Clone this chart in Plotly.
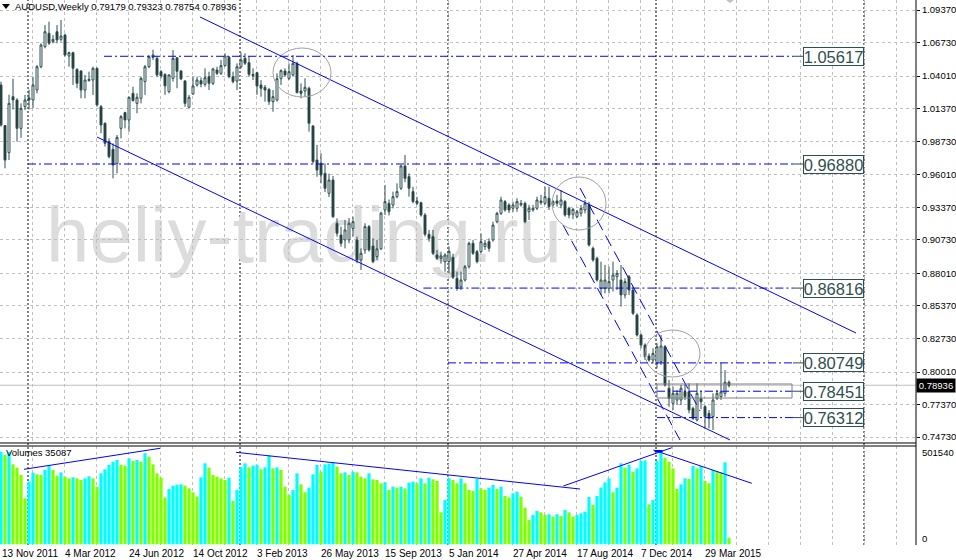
import plotly.graph_objects as go

# ---------------- data (weekly AUDUSD, week 0 = 13 Nov 2011) ----------------
open_ = [1.0329, 1.0000, 0.9780, 1.0234, 1.0207, 0.9977, 1.0153, 1.0225, 1.0207, 1.0288,
         1.0477, 1.0640, 1.0748, 1.0680, 1.0761, 1.0699, 1.0734, 1.0564, 1.0591, 1.0456,
         1.0442, 1.0288, 1.0364, 1.0369, 1.0464, 1.0153, 1.0018, 0.9869, 0.9807, 0.9693,
         0.9977, 1.0105, 1.0045, 1.0261, 1.0180, 1.0221, 1.0356, 1.0477, 1.0553, 1.0545,
         1.0437, 1.0415, 1.0275, 1.0383, 1.0550, 1.0442, 1.0361, 1.0148, 1.0256, 1.0329,
         1.0364, 1.0334, 1.0396, 1.0342, 1.0450, 1.0423, 1.0486, 1.0553, 1.0396, 1.0361,
         1.0477, 1.0545, 1.0510, 1.0415, 1.0429, 1.0329, 1.0310, 1.0294, 1.0194, 1.0207,
         1.0380, 1.0442, 1.0383, 1.0410, 1.0504, 1.0280, 1.0280, 1.0302, 0.9996, 0.9720,
         0.9693, 0.9612, 0.9450, 0.9558, 0.9207, 0.9112, 0.9072, 0.9072, 0.9166, 0.9072,
         0.8910, 0.8990, 0.9180, 0.9023, 0.8937, 0.9000, 0.9315, 0.9369, 0.9355, 0.9423,
         0.9491, 0.9672, 0.9585, 0.9464, 0.9388, 0.9374, 0.9274, 0.9118, 0.9099, 0.8950,
         0.8923, 0.8896, 0.8896, 0.8930, 0.8761, 0.8693, 0.8747, 0.8855, 0.9045, 0.8977,
         0.8977, 0.9018, 0.9058, 0.9072, 0.9220, 0.9288, 0.9383, 0.9356, 0.9329, 0.9329,
         0.9356, 0.9369, 0.9301, 0.9315, 0.9329, 0.9388, 0.9369, 0.9410, 0.9356, 0.9388,
         0.9356, 0.9383, 0.9329, 0.9280, 0.9261, 0.9288, 0.9315, 0.9355, 0.9004, 0.8923,
         0.8680, 0.8680, 0.8680, 0.8747, 0.8774, 0.8747, 0.8626, 0.8774, 0.8666, 0.8463,
         0.8301, 0.8220, 0.8131, 0.8098, 0.8071, 0.8085, 0.8206, 0.7869, 0.7747, 0.7774,
         0.7774, 0.7841, 0.7841, 0.7706, 0.7612, 0.7787, 0.7720, 0.7666, 0.7639, 0.7787,
         0.7801, 0.7828, 0.79179]
high_ = [1.0356, 1.0004, 1.0250, 1.0380, 1.0221, 1.0180, 1.0248, 1.0290, 1.0396, 1.0491,
         1.0667, 1.0815, 1.0842, 1.0734, 1.0815, 1.0856, 1.0745, 1.0599, 1.0599, 1.0464,
         1.0450, 1.0410, 1.0437, 1.0477, 1.0470, 1.0167, 1.0025, 0.9896, 0.9856, 0.9923,
         1.0085, 1.0112, 1.0234, 1.0315, 1.0261, 1.0396, 1.0491, 1.0572, 1.0615, 1.0559,
         1.0450, 1.0423, 1.0415, 1.0613, 1.0553, 1.0450, 1.0369, 1.0248, 1.0396, 1.0396,
         1.0390, 1.0464, 1.0437, 1.0469, 1.0477, 1.0532, 1.0586, 1.0564, 1.0437, 1.0504,
         1.0591, 1.0586, 1.0559, 1.0464, 1.0437, 1.0369, 1.0329, 1.0302, 1.0288, 1.0423,
         1.0456, 1.0464, 1.0504, 1.0572, 1.0518, 1.0342, 1.0383, 1.0315, 1.0004, 0.9842,
         0.9775, 0.9693, 0.9610, 0.9590, 0.9247, 0.9180, 0.9234, 0.9250, 0.9261, 0.9099,
         0.9004, 0.9207, 0.9193, 0.9085, 0.9072, 0.9300, 0.9518, 0.9400, 0.9464, 0.9531,
         0.9680, 0.9761, 0.9612, 0.9504, 0.9423, 0.9383, 0.9290, 0.9153, 0.9153, 0.8991,
         0.8977, 0.8964, 0.9018, 0.8960, 0.8815, 0.8815, 0.8869, 0.9058, 0.9072, 0.8991,
         0.9126, 0.9072, 0.9085, 0.9220, 0.9301, 0.9423, 0.9396, 0.9369, 0.9383, 0.9410,
         0.9396, 0.9383, 0.9356, 0.9356, 0.9423, 0.9437, 0.9504, 0.9504, 0.9396, 0.9437,
         0.9477, 0.9396, 0.9342, 0.9330, 0.9315, 0.9355, 0.9396, 0.9382, 0.9018, 0.8936,
         0.8896, 0.8869, 0.8855, 0.8896, 0.8828, 0.8869, 0.8761, 0.8788, 0.8693, 0.8477,
         0.8315, 0.8234, 0.8152, 0.8193, 0.8234, 0.8301, 0.8220, 0.7936, 0.7882, 0.7855,
         0.7896, 0.7909, 0.7909, 0.7720, 0.7909, 0.7850, 0.7733, 0.7693, 0.7828, 0.7855,
         0.8075, 0.8017, 0.79323]
low_ = [0.9991, 0.9653, 0.9720, 1.0130, 0.9869, 0.9900, 1.0126, 1.0130, 1.0139, 1.0261,
        1.0464, 1.0626, 1.0653, 1.0667, 1.0667, 1.0680, 1.0559, 1.0477, 1.0329, 1.0302,
        1.0221, 1.0221, 1.0356, 1.0248, 1.0153, 0.9937, 0.9829, 0.9734, 0.9572, 0.9612,
        0.9896, 0.9977, 0.9950, 1.0194, 1.0099, 1.0180, 1.0248, 1.0464, 1.0531, 1.0396,
        1.0383, 1.0248, 1.0261, 1.0356, 1.0302, 1.0369, 1.0153, 1.0139, 1.0248, 1.0315,
        1.0310, 1.0315, 1.0288, 1.0329, 1.0410, 1.0410, 1.0477, 1.0383, 1.0342, 1.0288,
        1.0464, 1.0491, 1.0396, 1.0369, 1.0248, 1.0234, 1.0194, 1.0167, 1.0112, 1.0194,
        1.0329, 1.0396, 1.0369, 1.0396, 1.0261, 1.0221, 1.0234, 0.9950, 0.9693, 0.9585,
        0.9531, 0.9460, 0.9420, 0.9250, 0.9099, 0.9018, 0.9004, 0.9045, 0.9099, 0.8883,
        0.8828, 0.8960, 0.8977, 0.8883, 0.8910, 0.8990, 0.9274, 0.9270, 0.9328, 0.9410,
        0.9477, 0.9540, 0.9423, 0.9369, 0.9355, 0.9261, 0.9100, 0.9058, 0.8950, 0.8909,
        0.8880, 0.8815, 0.8801, 0.8755, 0.8660, 0.8666, 0.8734, 0.8840, 0.8950, 0.8882,
        0.8964, 0.8991, 0.8977, 0.9058, 0.9207, 0.9274, 0.9301, 0.9290, 0.9301, 0.9301,
        0.9342, 0.9207, 0.9234, 0.9301, 0.9315, 0.9356, 0.9356, 0.9315, 0.9342, 0.9342,
        0.9329, 0.9261, 0.9247, 0.9240, 0.9250, 0.9261, 0.9288, 0.9018, 0.8896, 0.8734,
        0.8626, 0.8639, 0.8639, 0.8653, 0.8666, 0.8531, 0.8598, 0.8626, 0.8463, 0.8288,
        0.8193, 0.8098, 0.8085, 0.8071, 0.8031, 0.8058, 0.7882, 0.7720, 0.7693, 0.7733,
        0.7733, 0.7774, 0.7666, 0.7612, 0.7600, 0.7700, 0.7544, 0.7544, 0.7531, 0.7774,
        0.7774, 0.7801, 0.78754]
close_ = [1.0004, 0.9720, 1.0180, 1.0207, 0.9977, 1.0139, 1.0207, 1.0207, 1.0329, 1.0477,
          1.0653, 1.0761, 1.0667, 1.0699, 1.0694, 1.0726, 1.0572, 1.0591, 1.0464, 1.0342,
          1.0288, 1.0369, 1.0375, 1.0464, 1.0167, 1.0004, 0.9856, 0.9747, 0.9680, 0.9904,
          1.0072, 1.0045, 1.0229, 1.0202, 1.0229, 1.0383, 1.0477, 1.0559, 1.0572, 1.0410,
          1.0402, 1.0321, 1.0410, 1.0545, 1.0440, 1.0378, 1.0180, 1.0229, 1.0321, 1.0369,
          1.0337, 1.0388, 1.0342, 1.0459, 1.0423, 1.0486, 1.0564, 1.0396, 1.0356, 1.0477,
          1.0532, 1.0505, 1.0415, 1.0404, 1.0321, 1.0302, 1.0288, 1.0194, 1.0234, 1.0380,
          1.0445, 1.0410, 1.0437, 1.0504, 1.0267, 1.0261, 1.0310, 1.0018, 0.9707, 0.9639,
          0.9599, 0.9491, 0.9558, 0.9261, 0.9126, 0.9045, 0.9153, 0.9207, 0.9220, 0.8910,
          0.8964, 0.9180, 0.8991, 0.8896, 0.9000, 0.9290, 0.9383, 0.9301, 0.9423, 0.9464,
          0.9672, 0.9572, 0.9491, 0.9383, 0.9369, 0.9274, 0.9118, 0.9085, 0.8964, 0.8923,
          0.8942, 0.8950, 0.8980, 0.8770, 0.8680, 0.8747, 0.8855, 0.9045, 0.8964, 0.8896,
          0.9058, 0.9045, 0.9004, 0.9193, 0.9288, 0.9396, 0.9315, 0.9315, 0.9356, 0.9383,
          0.9369, 0.9220, 0.9329, 0.9329, 0.9396, 0.9375, 0.9423, 0.9342, 0.9383, 0.9369,
          0.9396, 0.9274, 0.9274, 0.9320, 0.9301, 0.9328, 0.9369, 0.9031, 0.8909, 0.8747,
          0.8747, 0.8747, 0.8734, 0.8788, 0.8801, 0.8626, 0.8734, 0.8666, 0.8477, 0.8301,
          0.8220, 0.8125, 0.8098, 0.8152, 0.8206, 0.8212, 0.7896, 0.7787, 0.7828, 0.7828,
          0.7869, 0.7801, 0.7693, 0.7625, 0.7828, 0.7760, 0.7639, 0.7625, 0.7774, 0.7828,
          0.7841, 0.7918, 0.78936]
volume = [497900, 480000, 497000, 429800, 411900, 372500, 247200, 336700, 385100, 376100,
          372500, 399400, 420900, 399400, 368900, 386900, 363600, 354600, 360000, 354600,
          345700, 354600, 365400, 354600, 309800, 381500, 403000, 426300, 444200, 453100,
          426300, 422700, 462100, 447800, 453100, 444200, 490000, 471000, 429800, 381500,
          358200, 250700, 297300, 315200, 318800, 322400, 315200, 300900, 279400, 256100,
          360000, 435200, 411900, 372500, 363600, 354600, 345700, 358200, 232800, 291900,
          413700, 435200, 413700, 422700, 426300, 403000, 413700, 476400, 408300, 413700,
          399400, 309800, 265100, 291900, 381500, 322400, 279400, 304500, 376100, 426300,
          390400, 429800, 433400, 437000, 417300, 381500, 386900, 372500, 390400, 386900,
          363600, 354600, 381500, 349200, 345700, 327800, 333100, 291900, 309800, 304500,
          309800, 300900, 331300, 336700, 327800, 354600, 327800, 358200, 349200, 340300,
          171900, 238200, 354600, 345700, 327800, 354600, 327800, 291900, 286600, 351000,
          300900, 291900, 304500, 318800, 297300, 309800, 259700, 250700, 274000, 283000,
          256100, 197000, 130700, 157600, 179100, 171900, 157600, 161200, 148700, 161200,
          152200, 184500, 171900, 148700, 157600, 166600, 175500, 254300, 211300, 259700,
          304500, 333100, 354600, 279400, 304500, 435200, 411900, 426300, 390400, 408300,
          447800, 451300, 214900, 238200, 447800, 501540, 465700, 444200, 408300, 297300,
          322400, 354600, 351000, 420900, 408300, 420900, 340300, 327800, 399400, 394000,
          386900, 440600, 35087]

date_labels = ["13 Nov 2011", "4 Mar 2012", "24 Jun 2012", "14 Oct 2012", "3 Feb 2013",
               "26 May 2013", "15 Sep 2013", "5 Jan 2014", "27 Apr 2014", "17 Aug 2014",
               "7 Dec 2014", "29 Mar 2015"]
date_label_weeks = [0, 16, 32, 48, 64, 80, 96, 112, 128, 144, 160, 176]
year_start_weeks = [7, 60, 112, 164, 216]
price_ticks = [1.09370, 1.06730, 1.04010, 1.01370, 0.98730, 0.96010, 0.93370,
               0.90730, 0.88010, 0.85370, 0.82730, 0.80010, 0.77370, 0.74730]
levels = [1.05617, 0.96880, 0.86816, 0.80749, 0.78451, 0.76312]
level_start_weeks = [25.75, 6.75, 105.6, 111.75, 164.0, 164.0]
symbol_title = "AUDUSD,Weekly"
volume_max = 501540

# drawn objects in (week, price) / (week, volume) coordinates
channel_lines = [((49.75, 1.08802), (213.75, 0.83174)),
                 ((24.0, 0.99070), (182.25, 0.74496))]
steep_lines = [((144.75, 0.94934), (174.75, 0.76848)),
               ((140.5, 0.91933), (169.75, 0.74496))]
circles = [((68.0, 1.02314), (82.5, 1.06288)),
           ((137.75, 0.91527), (151.25, 0.95826)),
           ((161.0, 0.79605), (174.75, 0.83417))]
volume_lines = [((5.75, 403170), (39.75, 516058)),
                ((58.75, 494555), (144.75, 297270)),
                ((140.6, 313400), (167.7, 519300)),
                ((163.1, 506900), (187.7, 327900))]

# ---------------- figure ----------------
weeks = list(range(len(open_)))
last_o, last_h, last_l, last_c = open_[-1], high_[-1], low_[-1], close_[-1]

vol_colors = []
for k, v in enumerate(volume):
    if k == 0 or v > volume[k - 1]:
        vol_colors.append("#00FFFF")
    else:
        vol_colors.append("#7FFF00")

X_RANGE = [-0.25, 228.75]
P_RANGE = [0.74252, 1.10181]
V_RANGE = [-3763, 528422]
MAIN_BOTTOM = 0.18716
VOL_TOP = 0.18165
GRID = "#C0C0C0"
BLUE = "#0000FF"
SLATE = "#2F4F4F"
FONT = "Liberation Sans, Arial, sans-serif"


def week_to_paper(w):
    return (w - X_RANGE[0]) / (X_RANGE[1] - X_RANGE[0])


grid_x = [8 * k - 0.25 for k in range(29)]

fig = go.Figure()
fig.add_trace(go.Bar(x=weeks, y=volume, width=0.8, marker=dict(color=vol_colors, line=dict(width=0)),
                     xaxis="x2", yaxis="y2", hoverinfo="skip"))
fig.add_trace(go.Candlestick(x=weeks, open=open_, high=high_, low=low_, close=close_,
                             increasing=dict(line=dict(color=SLATE, width=1), fillcolor="#FFFFFF"),
                             decreasing=dict(line=dict(color=SLATE, width=1), fillcolor="#1E3030"),
                             whiskerwidth=0, xaxis="x", yaxis="y", hoverinfo="skip"))

shapes = []
# watermark (below grid)
shapes.append(dict(type="rect", xref="x", yref="y", x0=40, x1=111.5, y0=0.8969, y1=0.9369,
                   line=dict(width=0), fillcolor="rgba(0,0,0,0)", layer="below",
                   label=dict(text="heliy-trading.ru", textposition="middle center",
                              font=dict(size=78, color="#DCDCDC", family=FONT))))
# period separators
for w in year_start_weeks:
    shapes.append(dict(type="line", xref="x", yref="paper", x0=w - 0.25, x1=w - 0.25, y0=0, y1=1,
                       line=dict(color="black", width=1, dash="2px,2px"), layer="below"))
# current price line
shapes.append(dict(type="line", xref="paper", yref="y", x0=0, x1=1, y0=last_c, y1=last_c,
                   line=dict(color="#C0C0C0", width=1), layer="below"))
# channel lines
for (a, b) in channel_lines:
    shapes.append(dict(type="line", xref="x", yref="y", x0=a[0], y0=a[1], x1=b[0], y1=b[1],
                       line=dict(color=BLUE, width=1)))
for (a, b) in steep_lines:
    shapes.append(dict(type="line", xref="x", yref="y", x0=a[0], y0=a[1], x1=b[0], y1=b[1],
                       line=dict(color=BLUE, width=1, dash="12px,6px")))
# circles
for (a, b) in circles:
    shapes.append(dict(type="circle", xref="x", yref="y", x0=a[0], y0=a[1], x1=b[0], y1=b[1],
                       line=dict(color="#A0A0A0", width=1)))
# levels
for lv, st in zip(levels, level_start_weeks):
    shapes.append(dict(type="line", xref="x", yref="y", x0=st, x1=198.0, y0=lv, y1=lv,
                       line=dict(color=BLUE, width=1, dash="8px,3px,2px,3px")))
    shapes.append(dict(type="line", xref="x", yref="y", x0=198.0, x1=200.5, y0=lv, y1=lv,
                       line=dict(color=SLATE, width=1)))
# rectangle around 0.78451
shapes.append(dict(type="rect", xref="x", yref="y", x0=164.0, x1=197.75, y0=0.77902, y1=0.79037,
                   line=dict(color="#808080", width=1)))
# volume lines
for (a, b) in volume_lines:
    shapes.append(dict(type="line", xref="x2", yref="y2", x0=a[0], y0=a[1], x1=b[0], y1=b[1],
                       line=dict(color=BLUE, width=1)))
shapes.append(dict(type="line", xref="x2", yref="y2", x0=163.4, x1=165.4, y0=volume_max, y1=volume_max,
                   line=dict(color=BLUE, width=2)))
# pane borders
shapes.append(dict(type="line", xref="paper", yref="paper", x0=1, x1=1, y0=0, y1=1,
                   line=dict(color="black", width=1)))
shapes.append(dict(type="line", xref="paper", yref="paper", x0=0, x1=1, y0=MAIN_BOTTOM, y1=MAIN_BOTTOM,
                   line=dict(color="black", width=1)))
shapes.append(dict(type="line", xref="paper", yref="paper", x0=0, x1=1, y0=VOL_TOP, y1=VOL_TOP,
                   line=dict(color="black", width=1)))
# small triangle markers
shapes.append(dict(type="path", xref="paper", yref="paper",
                   path="M 0.00218 0.99266 L 0.01092 0.99266 L 0.00655 0.98349 Z",
                   fillcolor="black", line=dict(width=0)))
shapes.append(dict(type="path", xref="paper", yref="paper",
                   path="M 0.7926 1.0 L 0.8013 1.0 L 0.7969 0.9945 Z",
                   fillcolor="#C0C0C0", line=dict(width=0)))

annotations = []
annotations.append(dict(xref="paper", yref="paper", x=0.0142, y=0.98716, xanchor="left", yanchor="middle",
                        showarrow=False, font=dict(size=9.5, color="black", family=FONT),
                        text=f"{symbol_title} {last_o:.5f} {last_h:.5f} {last_l:.5f} {last_c:.5f}"))
for lv in levels:
    annotations.append(dict(xref="x", yref="y", x=208.1, y=lv, xanchor="center", yanchor="middle",
                            showarrow=False, text=f"{lv:.5f}",
                            font=dict(size=16.5, color=SLATE, family=FONT),
                            bordercolor=SLATE, borderwidth=1, borderpad=0, bgcolor="white",
                            width=59, height=17))
annotations.append(dict(xref="paper", yref="y", x=1.0, y=last_c, xanchor="left", yanchor="middle",
                        showarrow=False, text=f"{last_c:.5f}", bgcolor="black",
                        font=dict(size=9.5, color="white", family=FONT), borderpad=1, width=36))
annotations.append(dict(xref="paper", yref="paper", x=0.0044, y=0.16881, xanchor="left", yanchor="middle",
                        showarrow=False, text=f"Volumes {volume[-1]}",
                        font=dict(size=9.5, color="black", family=FONT)))
annotations.append(dict(xref="paper", yref="paper", x=1.0044, y=0.17064, xanchor="left", yanchor="middle",
                        showarrow=False, text=f"{volume_max}",
                        font=dict(size=9.5, color="black", family=FONT)))
annotations.append(dict(xref="paper", yref="paper", x=1.0044, y=0.01284, xanchor="left", yanchor="middle",
                        showarrow=False, text="0", font=dict(size=9.5, color="black", family=FONT)))
for lab, w in zip(date_labels, date_label_weeks):
    annotations.append(dict(xref="paper", yref="paper", x=max(week_to_paper(w - 0.6), 0.0),
                            y=-0.0147, xanchor="left", yanchor="middle",
                            showarrow=False, text=lab, font=dict(size=10, color="black", family=FONT)))

axis_common = dict(showgrid=True, gridcolor=GRID, griddash="3px,3px", gridwidth=1, zeroline=False,
                   fixedrange=True)
fig.update_layout(
    width=956, height=560,
    margin=dict(l=0, r=40, t=0, b=15),
    paper_bgcolor="white", plot_bgcolor="white",
    showlegend=False,
    font=dict(family=FONT, size=10, color="black"),
    xaxis=dict(domain=[0, 1], range=X_RANGE, anchor="y", showticklabels=False, ticks="",
               tickmode="array", tickvals=grid_x, rangeslider=dict(visible=False), **axis_common),
    yaxis=dict(domain=[MAIN_BOTTOM, 1], range=P_RANGE, anchor="x", side="right",
               tickmode="array", tickvals=price_ticks, ticktext=[f"{v:.5f}" for v in price_ticks],
               ticks="outside", ticklen=3, tickcolor="black",
               tickfont=dict(size=9.5, color="black", family=FONT), **axis_common),
    xaxis2=dict(domain=[0, 1], range=X_RANGE, anchor="y2", matches="x", showticklabels=False, ticks="",
                tickmode="array", tickvals=grid_x, **axis_common),
    yaxis2=dict(domain=[0, VOL_TOP], range=V_RANGE, anchor="x2", side="right",
                tickmode="array", tickvals=[0], showticklabels=False, ticks="", **axis_common),
    shapes=shapes,
    annotations=annotations,
)

fig.write_html("out.html", config={"displayModeBar": False, "staticPlot": True},
               post_script="document.body.style.margin='0px';document.body.style.padding='0px';")
